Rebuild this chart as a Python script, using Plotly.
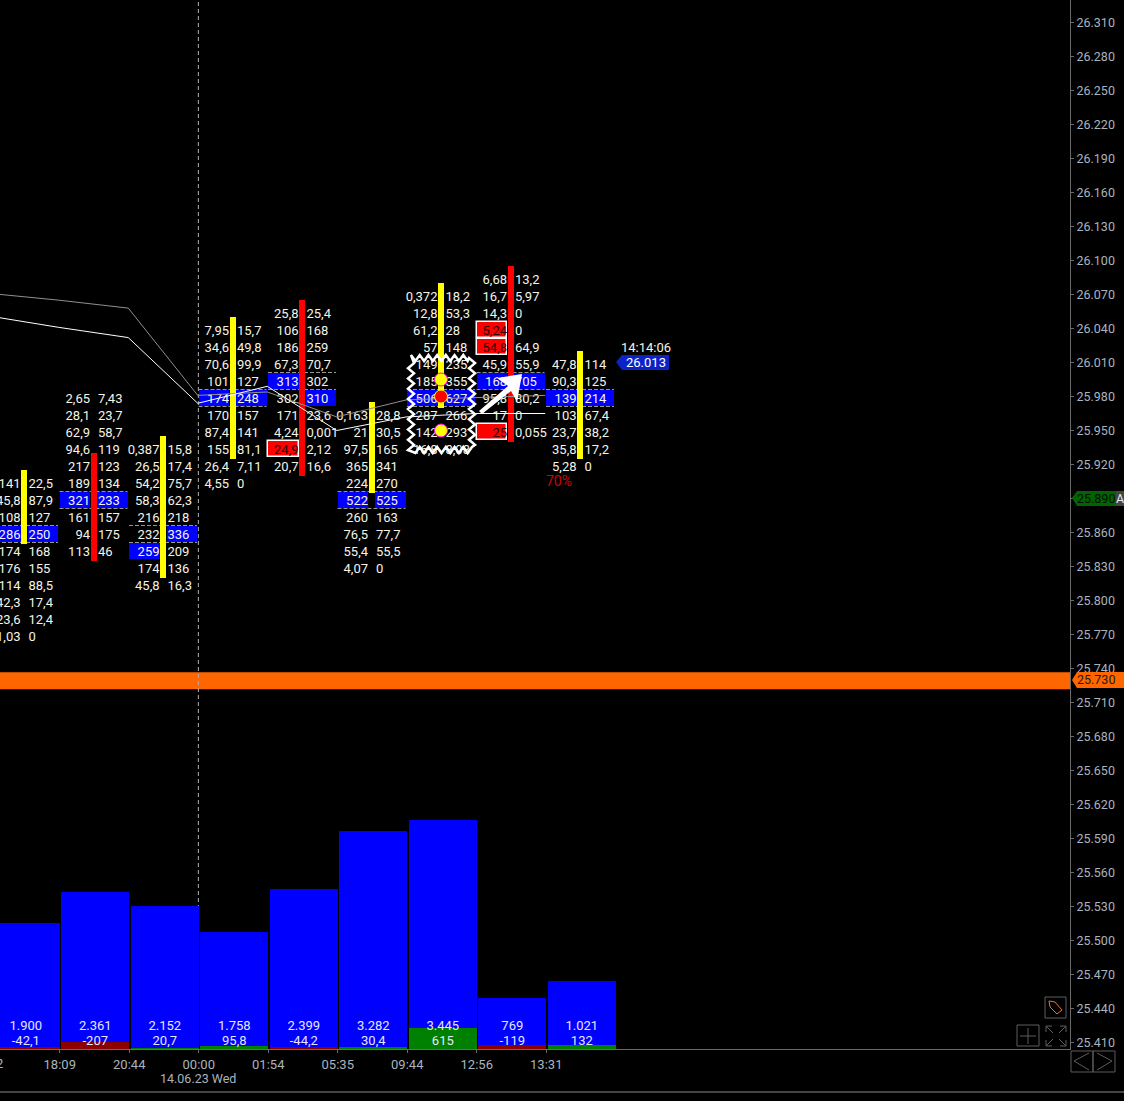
import plotly.graph_objects as go

# ---- data ----
price_ticks = list(range(25410, 26311, 30))
row_step = 15
bar_index = list(range(9))
bar_top = [25905, 25980, 25935, 26040, 26055, 25965, 26070, 26085, 26010]
bid_0 = ["141", "45,8", "108", "286", "174", "176", "114", "42,3", "23,6", "1,03"]
ask_0 = ["22,5", "87,9", "127", "250", "168", "155", "88,5", "17,4", "12,4", "0"]
bid_1 = ["2,65", "28,1", "62,9", "94,6", "217", "189", "321", "161", "94", "113"]
ask_1 = ["7,43", "23,7", "58,7", "119", "123", "134", "233", "157", "175", "46"]
bid_2 = ["0,387", "26,5", "54,2", "58,3", "216", "232", "259", "174", "45,8"]
ask_2 = ["15,8", "17,4", "75,7", "62,3", "218", "336", "209", "136", "16,3"]
bid_3 = ["7,95", "34,6", "70,6", "101", "174", "170", "87,4", "155", "26,4", "4,55"]
ask_3 = ["15,7", "49,8", "99,9", "127", "248", "157", "141", "81,1", "7,11", "0"]
bid_4 = ["25,8", "106", "186", "67,3", "313", "302", "171", "4,24", "24,9", "20,7"]
ask_4 = ["25,4", "168", "259", "70,7", "302", "310", "23,6", "0,001", "2,12", "16,6"]
bid_5 = ["0,163", "21", "97,5", "365", "224", "522", "260", "76,5", "55,4", "4,07"]
ask_5 = ["28,8", "30,5", "165", "341", "270", "525", "163", "77,7", "55,5", "0"]
bid_6 = ["0,372", "12,8", "61,2", "57", "149", "185", "506", "287", "142", "16,8"]
ask_6 = ["18,2", "53,3", "28", "148", "235", "355", "627", "266", "293", "8,08"]
bid_7 = ["6,68", "16,7", "14,3", "5,24", "54,8", "45,9", "168", "95,8", "17", "25"]
ask_7 = ["13,2", "5,97", "0", "0", "64,9", "55,9", "705", "80,2", "0", "0,055"]
bid_8 = ["47,8", "90,3", "139", "103", "23,7", "35,8", "5,28"]
ask_8 = ["114", "125", "214", "67,4", "38,2", "17,2", "0"]
bids = [bid_0, bid_1, bid_2, bid_3, bid_4, bid_5, bid_6, bid_7, bid_8]
asks = [ask_0, ask_1, ask_2, ask_3, ask_4, ask_5, ask_6, ask_7, ask_8]

body_low = [25850, 25835, 25820, 25925, 25910, 25895, 25970, 25940, 25925]
body_high = [25915, 25930, 25945, 26050, 26065, 25975, 26080, 26095, 26020]
body_up = [True, False, True, True, False, True, True, False, True]
poc_price = [25860, 25890, 25860, 25980, 25995, 25890, 25980, 25995, 25980]

blue_left = [(0, 25860), (1, 25890), (2, 25845), (3, 25980), (4, 25995), (5, 25890), (6, 25980), (7, 25995), (8, 25980)]
blue_right = [(0, 25860), (1, 25890), (2, 25860), (3, 25980), (4, 25980), (5, 25890), (6, 25980), (7, 25995), (8, 25980)]
red_left = [(4, 25935), (7, 26040), (7, 26025), (7, 25950)]

line_x = [-0.5, 0.5, 1.5, 2.5, 3.5, 4.5, 5.5, 6.5, 7.5]
white_line = [26051, 26041, 26032, 25974, 25989, 25950, 25962, 25965, 25965]
gray_line = [26071, 26065, 26058, 25981, 25984, 25962, 25977, 25979, 25981]

dot_bar = [6, 6, 6]
dot_price = [25995, 25980, 25950]

volume = [1900, 2361, 2152, 1758, 2399, 3282, 3445, 769, 1021]
delta = [-42.1, -207, 20.7, 95.8, -44.2, 30.4, 615, -119, 132]

time_ticks = [0.5, 1.5, 2.5, 3.5, 4.5, 5.5, 6.5, 7.5]
time_labels = ["18:09", "20:44", "00:00", "01:54", "05:35", "09:44", "12:56", "13:31"]
last_price = 26013
last_time = "14:14:06"
green_price = 25890
orange_price = 25730
session_bar = 2.5

# ---- canvas ----
W, H = 1124, 1101
PL, PB = 1070, 1049
C0, DX = 24.0, 69.5
XR = [(0 - C0) / DX, (PL - C0) / DX]
Y_PER_PX = 30 / 34.0
Y_TOP = 25980 + 396.5 * Y_PER_PX
Y_BOT = 25980 - (PB - 396.5) * Y_PER_PX
ROW_SHIFT = -1.3
TEXT_SHIFT = -2.6
INK = "#f4f4e8"
AXC = "#aab4be"
GRID = "#6a6a6a"
FONT = "Roboto"


def dx(px):
    return px / DX


def num(v):
    s = f"{v:,}"
    return s.replace(",", "#").replace(".", ",").replace("#", ".")


def pxx(x):
    return x / PL


def pxy(y):
    return 1 - y / PB


fig = go.Figure()

# highlighted cells (drawn under the numbers)
cell_w = dx(30.5)
cell_off = dx(18.75)
for cells, side, col, lw in [
    (blue_left, -1, "#0000ff", 0),
    (blue_right, 1, "#0000ff", 0),
    (red_left, -1, "#ff0000", 1.5),
]:
    fig.add_trace(go.Bar(
        x=[c[0] + side * cell_off for c in cells],
        y=[row_step - 1 for c in cells],
        base=[c[1] + ROW_SHIFT - (row_step - 1) / 2 for c in cells],
        width=cell_w,
        marker=dict(color=col, line=dict(color="#ffffff", width=lw)),
        hoverinfo="skip", showlegend=False,
    ))

# footprint numbers
red_set = set(red_left)
for side, data, pos, off in [(-1, bids, "middle left", dx(3.5)), (1, asks, "middle right", dx(4.5))]:
    xs, ys, ts, cs = [], [], [], []
    for i, col in enumerate(data):
        for k, t in enumerate(col):
            p = bar_top[i] - k * row_step
            xs.append(i + side * off)
            ys.append(p + TEXT_SHIFT)
            ts.append(t)
            cs.append("#2a0000" if (side < 0 and (i, p) in red_set) else INK)
    fig.add_trace(go.Scatter(
        x=xs, y=ys, text=ts, mode="text", textposition=pos,
        textfont=dict(family=FONT, size=13, color=cs),
        hoverinfo="skip", showlegend=False,
    ))

# POC dashed rules
dash_x, dash_y = [], []
half = dx(34)
for i, p in enumerate(poc_price):
    for e in (p + ROW_SHIFT + row_step / 2, p + ROW_SHIFT - row_step / 2):
        dash_x += [i - half, i + half, None]
        dash_y += [e, e, None]
fig.add_trace(go.Scatter(x=dash_x, y=dash_y, mode="lines", line=dict(color="#9a9a9a", width=1, dash="4px,2px"),
                         hoverinfo="skip", showlegend=False))

# volume + delta
VOL_X = [i + dx(1.8) for i in bar_index]
fig.add_trace(go.Bar(x=VOL_X, y=volume, width=0.975, yaxis="y2",
                     marker=dict(color="#0000ff", line=dict(width=0)), hoverinfo="skip", showlegend=False))
fig.add_trace(go.Bar(x=VOL_X, y=[abs(d) for d in delta], width=0.975, yaxis="y3",
                     marker=dict(color=["#008000" if d > 0 else "#8b0000" for d in delta], line=dict(width=0)),
                     hoverinfo="skip", showlegend=False))
VOL_MAX = PB / 0.0665
DEL_MAX = PB / 0.0341
fig.add_trace(go.Scatter(x=VOL_X, y=[DEL_MAX * 22 / PB] * 9, yaxis="y3", mode="text",
                         text=[num(v) for v in volume], textposition="middle center",
                         textfont=dict(family=FONT, size=13, color="#e6e6ff"), hoverinfo="skip", showlegend=False))
fig.add_trace(go.Scatter(x=VOL_X, y=[DEL_MAX * 7 / PB] * 9, yaxis="y3", mode="text",
                         text=[num(d) for d in delta], textposition="middle center",
                         textfont=dict(family=FONT, size=13, color="#e6e6ff"), hoverinfo="skip", showlegend=False))

# thin candle bodies, lines and dots above the numbers
fig.add_trace(go.Bar(
    x=bar_index, y=[h - l for h, l in zip(body_high, body_low)], base=body_low, width=dx(6), yaxis="y4",
    marker=dict(color=["#ffff00" if u else "#ff0000" for u in body_up], line=dict(width=0)),
    hoverinfo="skip", showlegend=False))
fig.add_trace(go.Scatter(x=line_x, y=gray_line, yaxis="y4", mode="lines", line=dict(color="#909090", width=1),
                         hoverinfo="skip", showlegend=False))
fig.add_trace(go.Scatter(x=line_x, y=white_line, yaxis="y4", mode="lines", line=dict(color="#ffffff", width=1),
                         hoverinfo="skip", showlegend=False))
fig.add_trace(go.Scatter(x=dot_bar, y=dot_price, yaxis="y4", mode="markers",
                         marker=dict(size=13, color=["#ffff00", "#ff0000", "#ffff00"],
                                     line=dict(color=["#ff00ff", "#ffff00", "#ff00ff"], width=1)),
                         hoverinfo="skip", showlegend=False))

shapes = []
# orange level band, session line
shapes.append(dict(type="rect", xref="paper", yref="y", x0=0, x1=1, y0=orange_price - 8.2, y1=orange_price + 6.8,
                   fillcolor="#ff6600", line=dict(width=0), layer="below"))
shapes.append(dict(type="line", xref="x", yref="paper", x0=session_bar + dx(0.6), x1=session_bar + dx(0.6), y0=0, y1=1,
                   line=dict(color="#b0b0b0", width=1, dash="4px,3px"), layer="below"))

# zigzag frame round bar 6
fx0, fx1, fy0, fy1 = 411, 472, 358, 450
pts = []
n_h, n_v = 7, 9
amp = 3.0


def rim(x0, y0, x1, y1, n, nx, ny):
    for j in range(2 * n):
        t = j / (2 * n)
        s = amp if j % 2 else -amp
        pts.append((x0 + (x1 - x0) * t + nx * s, y0 + (y1 - y0) * t + ny * s))


rim(fx0, fy0, fx1, fy0, n_h, 0, 1)
rim(fx1, fy0, fx1, fy1, n_v, 1, 0)
rim(fx1, fy1, fx0, fy1, n_h, 0, 1)
rim(fx0, fy1, fx0, fy0, n_v, 1, 0)
path = "M" + " L".join(f"{pxx(a):.5f},{pxy(b):.5f}" for a, b in pts) + " Z"
shapes.append(dict(type="path", xref="paper", yref="paper", path=path, line=dict(color="#ffffff", width=2.5),
                   fillcolor="rgba(0,0,0,0)", layer="above"))


def poly(points, fill, line=None, lw=0):
    d = "M" + " L".join(f"{pxx(a):.5f},{pxy(b):.5f}" for a, b in points) + " Z"
    shapes.append(dict(type="path", xref="paper", yref="paper", path=d, fillcolor=fill,
                       line=dict(color=line or fill, width=lw), layer="above"))


def seg(x0, y0, x1, y1, col="#5c5c5c", w=1):
    shapes.append(dict(type="line", xref="paper", yref="paper", x0=pxx(x0), x1=pxx(x1), y0=pxy(y0), y1=pxy(y1),
                       line=dict(color=col, width=w), layer="above"))


def box(x0, y0, x1, y1, col="#5c5c5c"):
    shapes.append(dict(type="rect", xref="paper", yref="paper", x0=pxx(x0), x1=pxx(x1), y0=pxy(y0), y1=pxy(y1),
                       line=dict(color=col, width=1), fillcolor="rgba(0,0,0,0)", layer="above"))


# big arrow
poly([(479, 411), (508, 386), (497, 378), (522, 374), (517, 402), (511, 391), (482, 414)], "#ffffff")

# price tags
poly([(616, 362), (622, 355), (669, 355), (669, 370), (622, 370)], "#0a22c8")
poly([(1072, 498), (1077, 491), (1116, 491), (1116, 506), (1077, 506)], "#006400")
poly([(1116, 491), (1124, 491), (1124, 506), (1116, 506)], "#444444")
poly([(1072, 680), (1077, 672), (1124, 672), (1124, 688), (1077, 688)], "#ff6600")

# bottom chrome
seg(0, 1092, 1124, 1092, "#5c5c5c", 1.5)
box(1071, 1051, 1093, 1072)
box(1093, 1051, 1115, 1072)
seg(1089, 1053, 1074, 1061)
seg(1074, 1061, 1089, 1070)
seg(1097, 1053, 1112, 1061)
seg(1112, 1061, 1097, 1070)
box(1045, 997, 1066, 1018)
poly([(1049, 1001), (1055, 1002), (1062, 1010), (1057, 1014), (1050, 1007)], "rgba(0,0,0,0)", "#ff6a1a", 1)
box(1017, 1025, 1039, 1046)
seg(1028, 1028, 1028, 1044)
seg(1020, 1036, 1036, 1036)
for (a, b, c, d) in [(1046, 1026, 1053, 1033), (1066, 1026, 1059, 1033), (1046, 1046, 1053, 1039), (1066, 1046, 1059, 1039)]:
    seg(a, b, c, d)
    seg(a, b, a + (3 if a < 1050 else -3) * 2, b)
    seg(a, b, a, b + (6 if b < 1030 else -6))

ann = [
    dict(xref="paper", yref="paper", x=0, y=pxy(1063), text="16:22", xanchor="right", xshift=5, yanchor="middle",
         showarrow=False, font=dict(family=FONT, size=13, color=AXC)),
    dict(xref="x", yref="paper", x=2.5, y=pxy(1078), text="14.06.23 Wed", xanchor="center", yanchor="middle",
         showarrow=False, font=dict(family=FONT, size=12.5, color=AXC)),
    dict(xref="paper", yref="paper", x=pxx(559), y=pxy(481), text="70%", xanchor="center", yanchor="middle",
         showarrow=False, font=dict(family=FONT, size=14, color="#d40000")),
    dict(xref="paper", yref="paper", x=pxx(646), y=pxy(347), text=last_time, xanchor="center", yanchor="middle",
         showarrow=False, font=dict(family=FONT, size=13, color=INK)),
    dict(xref="paper", yref="y", x=pxx(646), y=last_price, yshift=-3, text=num(last_price), xanchor="center", yanchor="middle",
         showarrow=False, font=dict(family=FONT, size=13, color="#ffffff")),
    dict(xref="paper", yref="y", x=pxx(1096), y=green_price, text=num(green_price), xanchor="center", yanchor="middle",
         showarrow=False, font=dict(family=FONT, size=12.5, color="#0a0a0a")),
    dict(xref="paper", yref="y", x=pxx(1120), y=green_price, text="A", xanchor="center", yanchor="middle",
         showarrow=False, font=dict(family=FONT, size=12.5, color="#e8e8e8")),
    dict(xref="paper", yref="y", x=pxx(1095.5), y=orange_price, text=num(orange_price), xanchor="center", yanchor="middle",
         showarrow=False, font=dict(family=FONT, size=12.5, color="#1a1a1a")),
]

fig.update_layout(
    width=W, height=H, autosize=False,
    margin=dict(l=0, r=W - PL, t=0, b=H - PB, pad=0),
    paper_bgcolor="#000000", plot_bgcolor="#000000",
    barmode="overlay", bargap=0, showlegend=False, separators=",.",
    font=dict(family=FONT, size=13, color=AXC),
    xaxis=dict(range=XR, showgrid=False, zeroline=False, showline=True, linecolor=GRID, linewidth=1,
               tickmode="array", tickvals=[t + dx(1) for t in time_ticks], ticktext=time_labels, ticks="outside", ticklen=3,
               tickcolor=GRID, tickfont=dict(family=FONT, size=13, color=AXC)),
    yaxis=dict(range=[Y_BOT, Y_TOP], side="right", showgrid=False, zeroline=False, showline=True, linecolor=GRID,
               linewidth=1, tickmode="array", tickvals=price_ticks, ticktext=[num(v) for v in price_ticks],
               ticks="outside", ticklen=3, tickcolor=GRID, tickfont=dict(family=FONT, size=12.5, color=AXC)),
    yaxis2=dict(range=[0, VOL_MAX], overlaying="y", visible=False),
    yaxis3=dict(range=[0, DEL_MAX], overlaying="y", visible=False),
    yaxis4=dict(range=[Y_BOT, Y_TOP], overlaying="y", visible=False),
    shapes=shapes, annotations=ann,
)

fig.write_html("out.html", config={"displayModeBar": False},
               post_script="document.body.style.margin='0';document.body.style.background='#000';document.documentElement.style.overflow='hidden';")
